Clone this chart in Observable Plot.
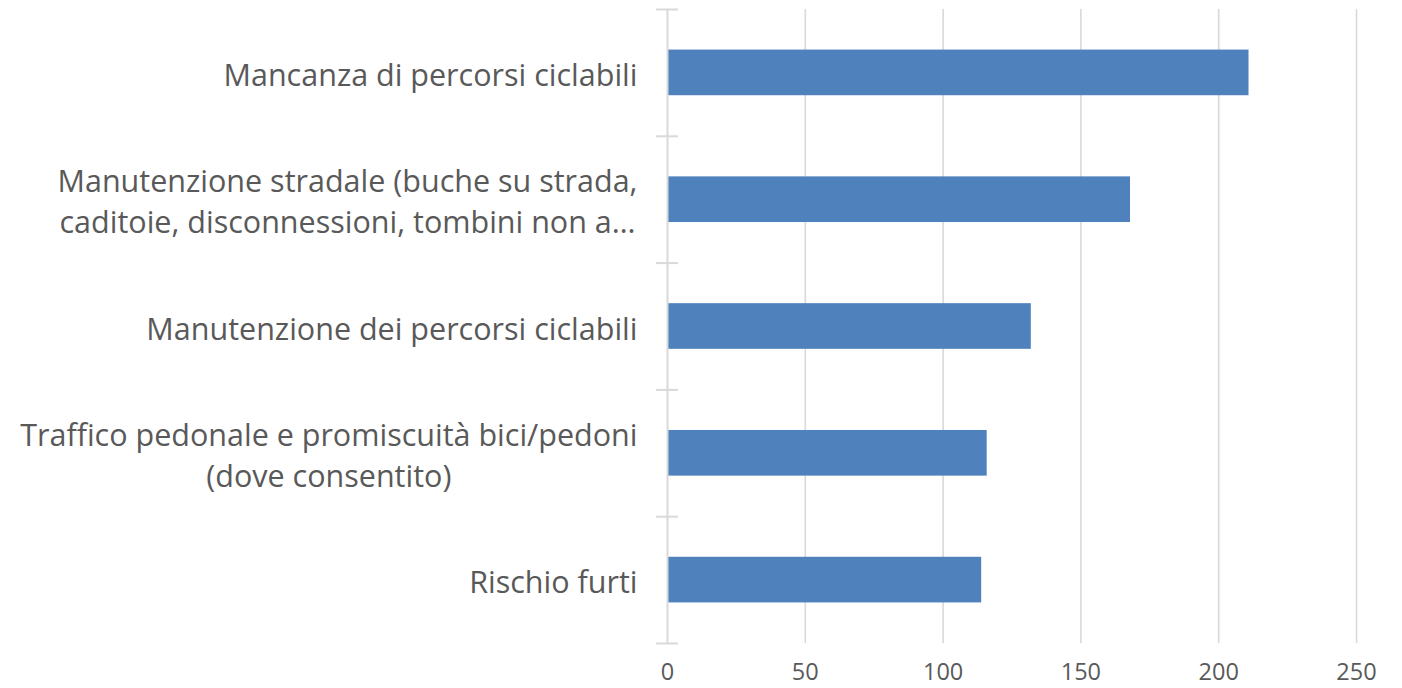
<!DOCTYPE html>
<html>
<head>
<meta charset="utf-8">
<script src="https://cdn.jsdelivr.net/npm/d3@7"></script>
<script src="https://cdn.jsdelivr.net/npm/@observablehq/plot@0.6"></script>
<style>
  html, body { margin: 0; padding: 0; background: #fff; }
  #chart svg { display: block; }
</style>
</head>
<body>
<div id="chart"></div>
<script>
const categories = [
  ["Mancanza di percorsi ciclabili"],
  ["Manutenzione stradale (buche su strada,", "caditoie, disconnessioni, tombini non a…"],
  ["Manutenzione dei percorsi ciclabili"],
  ["Traffico pedonale e promiscuità bici/pedoni", "(dove consentito)"],
  ["Rischio furti"]
];
const values = [211, 168, 132, 116, 114];
const xTicks = [0, 50, 100, 150, 200, 250];

const FONT = "Open Sans";
const labelSize = 30.5;
const tickSize = 23.5;
const textColor = "#595959";
const gridColor = "#d9d9d9";

const data = categories.map((lines, i) => ({i, label: lines.join("\n"), lines, value: values[i]}));
const bounds = d3.range(categories.length + 1);

const ctx = document.createElement("canvas").getContext("2d");
ctx.font = `${labelSize}px "${FONT}"`;
const widthOf = lines => Math.max(...lines.map(l => ctx.measureText(l).width));

const gap = 30;
const pad = 0.32;

const labelMarks = data.map(d => Plot.text([d], {
  frameAnchor: "left",
  y: d => d.i + 0.5,
  text: "label",
  textAnchor: "middle",
  dx: -(gap + widthOf(d.lines) / 2),
  lineHeight: 1.34,
  fontSize: labelSize,
  fill: textColor
}));

const chart = Plot.plot({
  width: 1402,
  height: 688,
  marginLeft: 667,
  marginRight: 46,
  marginTop: 9,
  marginBottom: 45,
  style: {fontFamily: FONT, background: "#fff", color: textColor},
  x: {domain: [0, 250], ticks: xTicks, tickSize: 0, tickPadding: 20, label: null},
  y: {domain: [0, categories.length], reverse: true, axis: null},
  marks: [
    Plot.ruleX(xTicks.filter(t => t > 0), {y1: 0, y2: categories.length, stroke: gridColor, strokeWidth: 1.6}),
    Plot.rectX(data, {x1: 0, x2: "value", y1: d => d.i + pad, y2: d => d.i + 1 - pad, fill: "#4f81bd"}),
    Plot.ruleX([0], {y1: 0, y2: categories.length, stroke: gridColor, strokeWidth: 2}),
    Plot.ruleY(bounds, {x1: -4, x2: 4, stroke: gridColor, strokeWidth: 2}),
    ...labelMarks
  ]
});

chart.querySelectorAll("g[aria-label='x-axis tick label']").forEach(el => {
  el.setAttribute("font-size", tickSize);
  el.setAttribute("fill", textColor);
});
document.getElementById("chart").appendChild(chart);
</script>
</body>
</html>
